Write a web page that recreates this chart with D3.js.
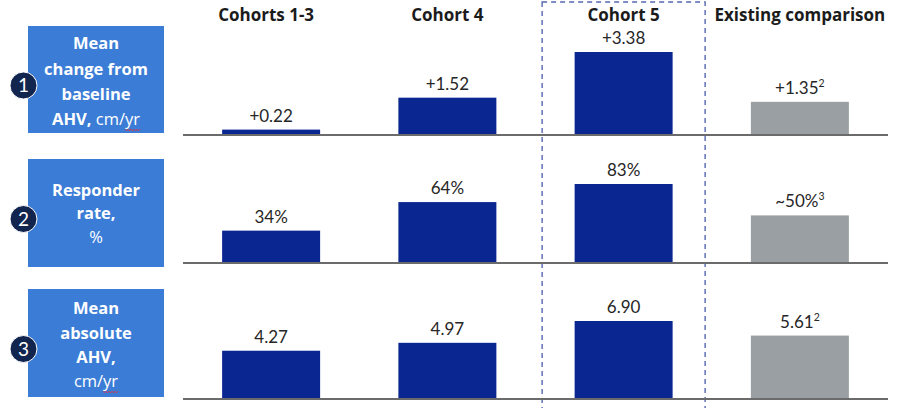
<!DOCTYPE html>
<html>
<head>
<meta charset="utf-8">
<script src="https://cdn.jsdelivr.net/npm/d3@7"></script>
<style>
  html, body { margin: 0; padding: 0; background: #fff; }
  svg { display: block; font-family: Lato, "Open Sans", sans-serif; }
  .heavy { font-family: "Open Sans", Lato, sans-serif; }
</style>
</head>
<body>
<svg id="chart" width="909" height="408"></svg>
<script>
// Column headers (cohorts + external comparison)
const categories = ["Cohorts 1-3", "Cohort 4", "Cohort 5", "Existing comparison"];

// One row per outcome measure
const changeFromBaseline = [0.22, 1.52, 3.38, 1.35];   // cm/yr
const responderRate      = [34, 64, 83, 50];           // %
const absoluteAHV        = [4.27, 4.97, 6.90, 5.61];   // cm/yr

const changeLabels    = ["+0.22", "+1.52", "+3.38", "+1.35"];
const responderLabels = ["34%", "64%", "83%", "~50%"];
const absoluteLabels  = ["4.27", "4.97", "6.90", "5.61"];

// Footnote references shown as superscripts on the comparison values
const footnotes = [
  ["", "", "", "2"],
  ["", "", "", "3"],
  ["", "", "", "2"]
];

const rowTitles = [
  [["Mean"], ["change from"], ["baseline"], ["AHV,", "cm/yr"]],
  [["Responder"], ["rate,"], [null, "%"]],
  [["Mean"], ["absolute"], ["AHV,"], [null, "cm/yr"]]
];

const rows = [
  { values: changeFromBaseline, labels: changeLabels,    notes: footnotes[0], base: 135, maxH: 83, box: [26, 133],  lines: [43, 69, 94, 119] },
  { values: responderRate,      labels: responderLabels, notes: footnotes[1], base: 263, maxH: 79, box: [159, 267], lines: [190, 213, 237] },
  { values: absoluteAHV,        labels: absoluteLabels,  notes: footnotes[2], base: 399, maxH: 78, box: [289, 397], lines: [308, 333, 357, 381] }
];

const svg = d3.select("#chart");
const NAVY = "#0a2690", GREY = "#9a9fa3", BOXBLUE = "#3b7dd6", BADGE = "#12254f";

const x = d3.scaleBand()
  .domain(categories)
  .range([183, 888])
  .paddingInner(0.444)
  .paddingOuter(0.222);

// Highlight frame around the Cohort 5 column
const cx5 = x("Cohort 5") + x.bandwidth() / 2;
svg.append("rect")
  .attr("x", cx5 - 81.5).attr("y", 2)
  .attr("width", 163).attr("height", 420)
  .attr("fill", "none")
  .attr("stroke", "#5468b0")
  .attr("stroke-width", 1.4)
  .attr("stroke-dasharray", "5,4");

// Column headers
svg.selectAll("text.header")
  .data(categories)
  .join("text")
  .attr("class", "header heavy")
  .attr("x", d => x(d) + x.bandwidth() / 2 - (d === "Cohorts 1-3" ? 5 : 0))
  .attr("y", 21)
  .attr("text-anchor", "middle")
  .attr("font-weight", 700)
  .attr("font-size", 17)
  .attr("fill", "#1b1b1b")
  .text(d => d);

rows.forEach((row, ri) => {
  const g = svg.append("g");
  const y = d3.scaleLinear()
    .domain([0, d3.max(row.values)])
    .range([row.base, row.base - row.maxH]);

  // Row title box
  g.append("rect")
    .attr("x", 28).attr("y", row.box[0])
    .attr("width", 136).attr("height", row.box[1] - row.box[0])
    .attr("fill", BOXBLUE);

  rowTitles[ri].forEach((parts, li) => {
    const t = g.append("text")
      .attr("class", "heavy")
      .attr("x", 96).attr("y", row.lines[li] + 6)
      .attr("text-anchor", "middle")
      .attr("font-size", 16.5)
      .attr("fill", "#fff");
    if (parts[0]) t.append("tspan").attr("font-weight", 700).text(parts[0]);
    if (parts[1]) {
      t.append("tspan").attr("font-weight", 400).text((parts[0] ? " " : "") + parts[1]);
    }
  });

  // Red wavy underline under "yr" on the unit lines
  g.selectAll("text").each(function () {
    const node = this;
    const txt = node.textContent;
    const idx = txt.indexOf("yr");
    if (idx < 0) return;
    const start = node.getStartPositionOfChar(idx);
    const end = node.getEndPositionOfChar(idx + 1);
    const yy = start.y + 4.5;
    const pts = [];
    for (let xx = start.x, k = 0; xx <= end.x + 0.1; xx += 1.5, k++) {
      pts.push([xx, yy + (k % 2 ? 1.3 : -0.2)]);
    }
    g.append("path")
      .attr("d", d3.line()(pts))
      .attr("fill", "none")
      .attr("stroke", "#e0303a")
      .attr("stroke-width", 1);
  });

  // Numbered badge
  g.append("circle")
    .attr("cx", 23.5).attr("cy", (row.box[0] + row.box[1]) / 2 + 6)
    .attr("r", 13.5)
    .attr("fill", BADGE)
    .attr("stroke", "#fff")
    .attr("stroke-width", 1);
  g.append("text")
    .attr("x", 23.5).attr("y", (row.box[0] + row.box[1]) / 2 + 12.5)
    .attr("text-anchor", "middle")
    .attr("font-size", 19)
    .attr("fill", "#fff")
    .text(ri + 1);

  // Bars
  g.selectAll("rect.bar")
    .data(row.values)
    .join("rect")
    .attr("class", "bar")
    .attr("x", (d, i) => x(categories[i]))
    .attr("width", x.bandwidth())
    .attr("y", d => y(d))
    .attr("height", d => row.base - y(d))
    .attr("fill", (d, i) => i === 3 ? GREY : NAVY);

  // Value labels
  const lbl = g.selectAll("text.value")
    .data(row.values)
    .join("text")
    .attr("class", "value")
    .attr("x", (d, i) => x(categories[i]) + x.bandwidth() / 2)
    .attr("y", d => y(d) - 8)
    .attr("text-anchor", "middle")
    .attr("font-size", 17)
    .attr("fill", "#262626");
  lbl.append("tspan").text((d, i) => row.labels[i]);
  lbl.filter((d, i) => row.notes[i])
    .append("tspan")
    .attr("dy", -7)
    .attr("font-size", 10.5)
    .text((d, i) => row.notes[categories.length - 1]);

  // Baseline
  g.append("line")
    .attr("x1", 183).attr("x2", 888)
    .attr("y1", row.base).attr("y2", row.base)
    .attr("stroke", "#6b6b6b")
    .attr("stroke-width", 2);
});
</script>
</body>
</html>
